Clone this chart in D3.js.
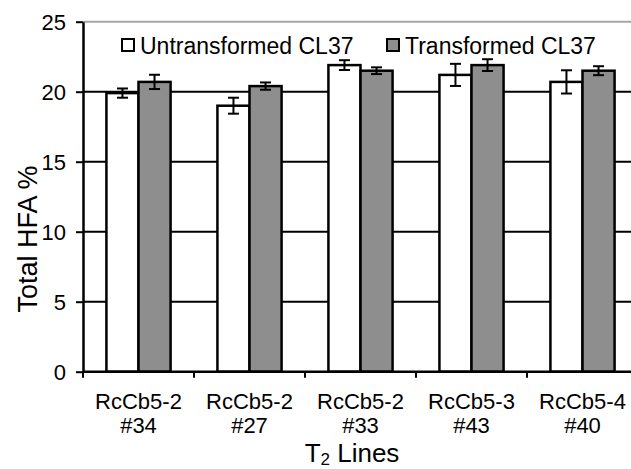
<!DOCTYPE html>
<html>
<head>
<meta charset="utf-8">
<script src="https://cdn.jsdelivr.net/npm/d3@7/dist/d3.min.js"></script>
<style>
  html, body { margin: 0; padding: 0; background: #fff; }
  svg { display: block; font-family: "Liberation Sans", Arial, sans-serif; }
</style>
</head>
<body>
<script>
// T2 lines and their two-line labels
const lines = ["RcCb5-2 #34", "RcCb5-2 #27", "RcCb5-2 #33", "RcCb5-3 #43", "RcCb5-4 #40"];
const lineLabels = [["RcCb5-2", "#34"], ["RcCb5-2", "#27"], ["RcCb5-2", "#33"], ["RcCb5-3", "#43"], ["RcCb5-4", "#40"]];
const seriesNames = ["Untransformed CL37", "Transformed CL37"];

// Total HFA % (mean) and standard error per series
const untransformed = [19.9, 19.0, 21.9, 21.2, 20.7];
const transformed = [20.7, 20.4, 21.5, 21.9, 21.5];
const untransformedErr = [0.33, 0.57, 0.35, 0.79, 0.83];
const transformedErr = [0.51, 0.26, 0.24, 0.42, 0.32];

const yTicks = [0, 5, 10, 15, 20, 25];

const W = 631, H = 469;
const margin = { left: 83, top: 21.7, bottom: 97.3 };
const plotRight = 638;   // last category runs past the window edge

const svg = d3.select("body").append("svg").attr("width", W).attr("height", H);

const y = d3.scaleLinear().domain([0, 25]).range([H - margin.bottom, margin.top]);
const x0 = d3.scaleBand().domain(lines).range([margin.left, plotRight]).padding(0);
const x1 = d3.scaleBand().domain(seriesNames).range([0, x0.bandwidth()]).paddingInner(0).paddingOuter(0.73);

const fills = { "Untransformed CL37": "#ffffff", "Transformed CL37": "#8e8e8e" };

const rows = lines.map((c, i) => ({
  line: c,
  bars: [
    { s: seriesNames[0], v: untransformed[i], e: untransformedErr[i] },
    { s: seriesNames[1], v: transformed[i], e: transformedErr[i] }
  ]
}));

// horizontal gridlines
svg.append("g").selectAll("line").data(yTicks.filter(d => d > 0)).join("line")
  .attr("x1", margin.left).attr("x2", plotRight)
  .attr("y1", d => y(d)).attr("y2", d => y(d))
  .attr("stroke", d => d === 25 ? "#a6a6a6" : "#000")
  .attr("stroke-width", 2);

// bars
const groups = svg.append("g").selectAll("g").data(rows).join("g")
  .attr("transform", d => `translate(${x0(d.line)},0)`);

groups.selectAll("rect").data(d => d.bars).join("rect")
  .attr("x", d => x1(d.s))
  .attr("y", d => y(d.v))
  .attr("width", x1.bandwidth())
  .attr("height", d => y(0) - y(d.v))
  .attr("fill", d => fills[d.s])
  .attr("stroke", "#000")
  .attr("stroke-width", 2.5);

// error bars
const capW = 5.5;
const eb = groups.selectAll("g.err").data(d => d.bars).join("g").attr("class", "err")
  .attr("stroke", "#000").attr("stroke-width", 2);
eb.append("line")
  .attr("x1", d => x1(d.s) + x1.bandwidth() / 2).attr("x2", d => x1(d.s) + x1.bandwidth() / 2)
  .attr("y1", d => y(d.v + d.e)).attr("y2", d => y(d.v - d.e));
eb.append("line")
  .attr("x1", d => x1(d.s) + x1.bandwidth() / 2 - capW).attr("x2", d => x1(d.s) + x1.bandwidth() / 2 + capW)
  .attr("y1", d => y(d.v + d.e)).attr("y2", d => y(d.v + d.e));
eb.append("line")
  .attr("x1", d => x1(d.s) + x1.bandwidth() / 2 - capW).attr("x2", d => x1(d.s) + x1.bandwidth() / 2 + capW)
  .attr("y1", d => y(d.v - d.e)).attr("y2", d => y(d.v - d.e));

// y axis
const yAxis = svg.append("g")
  .attr("transform", `translate(${margin.left},0)`)
  .call(d3.axisLeft(y).tickValues(yTicks).tickSize(7).tickPadding(10).tickSizeOuter(0));
yAxis.select(".domain").attr("stroke", "#000").attr("stroke-width", 2.5);
yAxis.selectAll(".tick line").attr("stroke", "#000").attr("stroke-width", 2);
yAxis.selectAll(".tick text").attr("fill", "#000").attr("font-size", 22)
  .attr("font-family", "'Liberation Sans', Arial, sans-serif").attr("dy", "0.36em");

// x axis: baseline with ticks at category boundaries
const xAxis = svg.append("g").attr("transform", `translate(0,${y(0)})`);
xAxis.append("line").attr("x1", margin.left).attr("x2", plotRight)
  .attr("stroke", "#000").attr("stroke-width", 2.5);
const bounds = lines.map(c => x0(c)).concat([x0(lines[lines.length - 1]) + x0.bandwidth()]);
xAxis.selectAll("line.tk").data(bounds).join("line").attr("class", "tk")
  .attr("x1", d => d).attr("x2", d => d).attr("y1", 0).attr("y2", 6)
  .attr("stroke", "#000").attr("stroke-width", 2);
const lbl = xAxis.selectAll("text").data(lines).join("text")
  .attr("text-anchor", "middle").attr("font-size", 22).attr("fill", "#000")
  .attr("transform", d => `translate(${x0(d) + x0.bandwidth() / 2},0)`);
lbl.selectAll("tspan").data((d, i) => lineLabels[i]).join("tspan")
  .attr("x", 0).attr("y", (d, i) => 37 + i * 24).text(d => d);

// axis titles
const xt = svg.append("text").attr("x", 352).attr("y", 462)
  .attr("text-anchor", "middle").attr("font-size", 26).attr("fill", "#000");
xt.append("tspan").text("T");
xt.append("tspan").attr("font-size", 17).attr("dy", 3).text("2");
xt.append("tspan").attr("dy", -3).text(" Lines");

svg.append("text").attr("transform", "translate(37,239) rotate(-90)")
  .attr("text-anchor", "middle").attr("font-size", 27).attr("fill", "#000")
  .text("Total HFA %");

// legend
const legendX = [122, 387];
const leg = svg.append("g").selectAll("g").data(seriesNames).join("g")
  .attr("transform", (d, i) => `translate(${legendX[i]},39)`);
leg.append("rect").attr("width", 12).attr("height", 12)
  .attr("fill", d => fills[d]).attr("stroke", "#000").attr("stroke-width", 2);
leg.append("text").attr("x", 18).attr("y", 15).attr("font-size", 23).attr("fill", "#000")
  .text(d => d);
</script>
</body>
</html>
